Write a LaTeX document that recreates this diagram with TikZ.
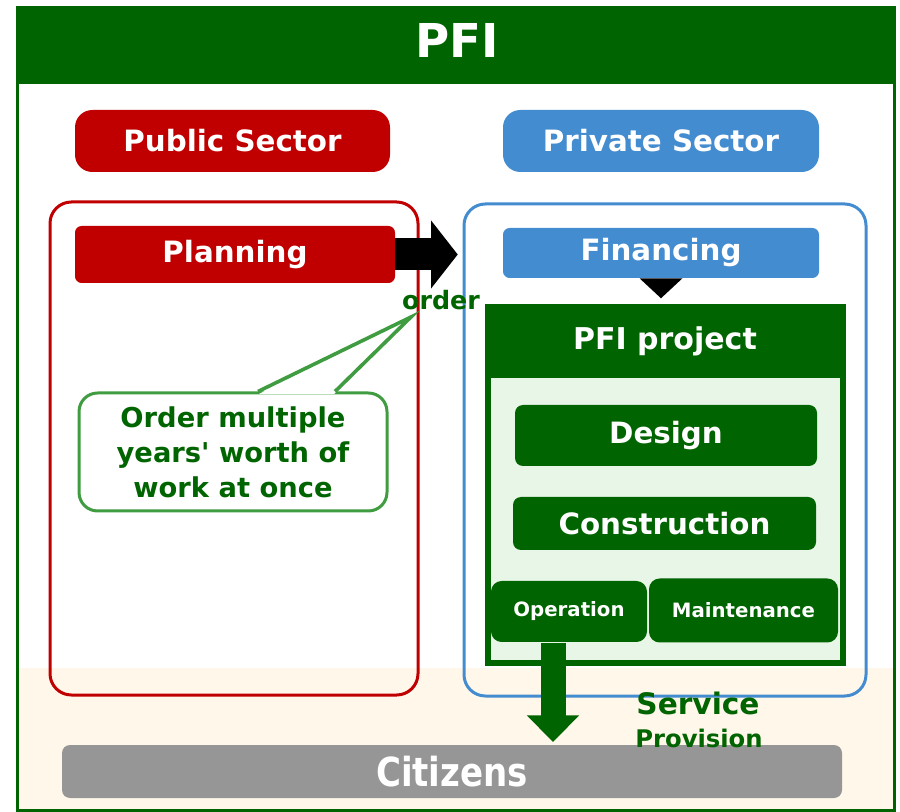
\documentclass[tikz,border=0pt]{standalone}
\usepackage{fontspec}
\usepackage{graphicx}
\setmainfont{DejaVu Sans}
\usetikzlibrary{arrows.meta}
\usetikzlibrary{calc}
\definecolor{pfigreen}{RGB}{0,100,0}
\definecolor{pubred}{RGB}{192,0,0}
\definecolor{privblue}{RGB}{68,140,208}
\definecolor{cream}{RGB}{255,248,234}
\definecolor{palegreen}{RGB}{232,246,232}
\definecolor{noteline}{RGB}{64,156,64}
\definecolor{citgray}{RGB}{150,150,150}
\newcommand{\fs}[2]{\fontsize{#1}{#2}\selectfont}
\newcommand{\sq}{{\XeTeXglyph\XeTeXcharglyph"0027}}

\begin{document}
\begin{tikzpicture}[x=0.75pt,y=-0.75pt,
		wh/.style 2 args={minimum width=#1*0.75pt,minimum height=#2*0.75pt},
		lbl/.style={inner sep=0pt,text=white,font=\bfseries\fs{22}{26}},
		area/.style={draw=#1,line width=2.25pt,rounded corners=16pt,inner sep=0pt}]
				\useasboundingbox (0,0) rectangle (900,812);
				% frame and background
				\fill[cream] (19,668) rectangle (893,809);
				\draw[pfigreen,line width=2.25pt] (17.5,8) rectangle (894.5,810.5);
				\fill[pfigreen] (16,7) rectangle (896,84);
				\node[text=white,font=\bfseries\fs{35}{40}] (title) at (457,40) {PFI};
				% sectors
				\node[lbl,fill=pubred,rounded corners=13pt,wh={315}{62}] (pub) at (232.5,141) {Public Sector};
				\node[lbl,fill=privblue,rounded corners=13pt,wh={316}{62}] (priv) at (661,141) {Private Sector};
				\node[area=pubred,wh={368}{493}] (pubarea) at (234,448.5) {};
				\node[area=privblue,wh={402}{492}] (privarea) at (665,450) {};
				\node[lbl,fill=pubred,rounded corners=5pt,wh={320}{57}] (plan) at (235,254.5) {Planning};
				\node[lbl,fill=privblue,rounded corners=5pt,wh={316}{50}] (fin) at (661,253) {Financing};
				\draw[line width=24pt,-{Triangle[width=50pt,length=20pt]},shorten >=33.75pt] (plan.east) -- (plan.east -| fin.west);
				\fill (fin.south) ++(-21.5,0) -- ++(43,0) -- ++(-21.5,20) -- cycle;
				% PFI project
				\node[fill=palegreen,draw=pfigreen,line width=4.5pt,inner sep=0pt,wh={355}{355}] (proj) at (665,485) {};
				\node[lbl,fill=pfigreen,wh={360}{73},font=\bfseries\fs{22.5}{26}] (projhead) at (665,341.5) {PFI project};
				\node[lbl,fill=pfigreen,rounded corners=6pt,wh={302}{61}] (design) at (666,435.5) {Design};
				\node[lbl,fill=pfigreen,rounded corners=6pt,wh={303}{53}] (constr) at (664.5,523.5) {Construction};
				\node[lbl,fill=pfigreen,rounded corners=8pt,wh={156}{61},font=\bfseries\fs{14.8}{18}] (oper) at (569,611.5) {Operation};
				\node[lbl,fill=pfigreen,rounded corners=8pt,wh={189}{64},font=\bfseries\fs{14.8}{18}] (maint) at (743.5,610.5) {Maintenance};
				% citizens
				\node[lbl,fill=citgray,rounded corners=6pt,wh={780}{53},font=\bfseries\fs{30}{34}] (cit) at (452,771.5) {\scalebox{0.85}[1]{Citizens}};
				\coordinate (svc) at (553,643);
				\draw[pfigreen,line width=18.75pt,-{Triangle[width=38pt,length=20pt]},shorten >=2pt] (svc) -- (svc |- cit.north);
				\node[text=pfigreen,font=\bfseries\fs{22.2}{26}] (service) at (698,703) {Service};
				\node[text=pfigreen,font=\bfseries\fs{18.2}{22}] (provision) at (699,738) {Provision};
				% order and note
				\node[text=pfigreen,font=\bfseries\fs{19}{22}] (order) at (441,300) {order};
				\coordinate (tip) at (411,317);
				\node[draw=noteline,fill=white,line width=2.25pt,rounded corners=14pt,wh={308}{118},inner sep=0pt,
					text=pfigreen,align=center,font=\bfseries\fs{20.5}{26.25}] (note) at (233,452)
					{Order multiple\\years\sq{} worth of\\work at once};
				\fill[white] ($(note.north)+(26,2.5)$) -- (tip) -- ($(note.north)+(101,2.5)$) -- cycle;
				\draw[noteline,line width=2.7pt] ($(note.north)+(25,0)$) -- (tip) -- ($(note.north)+(102,0)$);
			\end{tikzpicture}
\end{document}
